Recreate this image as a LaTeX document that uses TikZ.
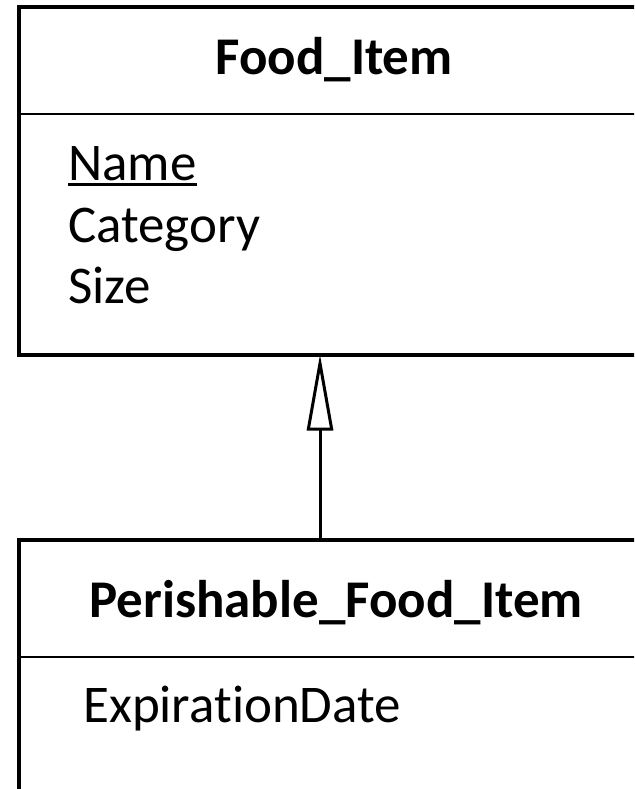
\documentclass[tikz,border=0pt]{standalone}
\usepackage{fontspec}
\setmainfont{Carlito}[Ligatures=NoCommon]
\usetikzlibrary{arrows.meta}
\begin{document}
\begin{tikzpicture}[x=1pt,y=1pt,
  classbox/.style={draw, line width=4pt, anchor=north west, inner sep=0pt, outer sep=0pt},
  divider/.style={line width=2pt},
  classtitle/.style={font=\fontsize{53}{64}\selectfont\bfseries, anchor=base, inner sep=0pt},
  attr/.style={font=\fontsize{53}{64}\selectfont, anchor=base west, inner sep=0pt},
  inherit/.style={line width=3pt, -{Triangle[open, length=76pt, width=26pt]}},
]
\useasboundingbox (0,0) rectangle (634,-789);
\clip (0,0) rectangle (634,-789);

% superclass
\node[classbox, minimum width=640pt, minimum height=347.5pt] (food) at (19,-7) {};
\coordinate (fooddiv) at (0,-114);
\draw[divider] (food.west |- fooddiv) -- (food.east |- fooddiv);
\node[classtitle] (foodtitle) at (334,-75) {Food\_Item};
\node[attr] (aname) at (68,-180) {Name};
\draw[line width=2.5pt] ([yshift=-4.5pt]aname.base west) -- ([yshift=-4.5pt]aname.base east);
\node[attr] (acat) at (68,-242) {Category};
\node[attr] (asize) at (68,-303) {Size};

% subclass
\node[classbox, line width=3.5pt, minimum width=640pt, minimum height=300pt] (perish) at (19,-540) {};
\coordinate (perishdiv) at (0,-657);
\draw[divider] (perish.west |- perishdiv) -- (perish.east |- perishdiv);
\node[classtitle] (perishtitle) at (336,-617) {Perishable\_Food\_Item};
\node[attr] (aexp) at (83,-722) {ExpirationDate};

% generalization
\coordinate (axis) at (320,0);
\draw[inherit] (perish.north -| axis) -- (food.south -| axis);
\end{tikzpicture}
\end{document}
